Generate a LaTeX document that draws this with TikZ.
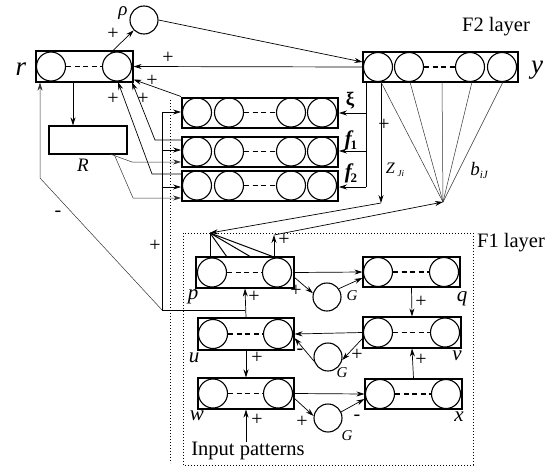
\documentclass[tikz,border=0pt]{standalone}
\usepackage{fontspec}
\setmainfont{Liberation Serif}
\usetikzlibrary{arrows.meta}
\begin{document}
\begin{tikzpicture}[x=1pt,y=-1pt,
  box/.style={draw, line width=1.1pt, rectangle, inner sep=0pt},
  tbox/.style={draw, line width=2pt, rectangle, inner sep=0pt, minimum width=156pt, minimum height=30pt},
  cir/.style={draw, circle, line width=1.1pt, minimum size=29pt, inner sep=0pt},
  dsh/.style={line width=1.1pt, dash pattern=on 5pt off 3.5pt},
  ln/.style={line width=0.7pt},
  con/.style={line width=0.7pt, -{Stealth[length=8pt,width=5pt]}},
  thn/.style={line width=0.5pt, black!80},
  pl/.style={font=\fontsize{20}{20}\selectfont, inner sep=0pt},
  it/.style={font=\fontsize{21}{21}\selectfont\itshape, inner sep=0pt},
  tx/.style={font=\fontsize{20.5}{20.5}\selectfont, inner sep=0pt},
  gl/.style={font=\fontsize{15}{15}\selectfont\itshape, inner sep=0pt}
]
\useasboundingbox (0,0) rectangle (552,469);

% ---------- F2 side ----------
\node[box, minimum width=97pt, minimum height=31pt] (rbox) at (84.5,66.5) {};
\node[cir] (r1) at (51,66.5) {};
\node[cir] (r2) at (117,66.5) {};
\draw[dsh] (r1.east) -- (r2.west);
\node[cir, minimum size=28pt] (rho) at (144,20) {};

\node[box, minimum width=155pt, minimum height=30pt] (ybox) at (440.5,67) {};
\node[cir] (y1) at (378,67) {};
\node[cir] (y2) at (409,67) {};
\node[cir] (y3) at (470,67) {};
\node[cir] (y4) at (502,67) {};
\draw[dsh] (y2.east) -- (y3.west);

\node[tbox] (xibox) at (260,112.5) {};
\node[tbox] (f1box) at (260,151.5) {};
\node[tbox] (f2box) at (260,185.5) {};
\foreach \b/\yy in {xi/112.5, fa/151.5, fb/185.5}{
  \node[cir] (\b1) at (197,\yy) {};
  \node[cir] (\b2) at (229,\yy) {};
  \node[cir] (\b3) at (291,\yy) {};
  \node[cir] (\b4) at (322,\yy) {};
  \draw[dsh] (\b2.east) -- (\b3.west);
}

\node[box, minimum width=78pt, minimum height=28pt] (Rbox) at (88,140) {};

% labels F2
\node[font=\fontsize{19}{19}\selectfont\itshape, inner sep=0pt] (lrho) at (123,13) {ρ};
\node[font=\fontsize{27}{27}\selectfont\itshape, inner sep=0pt] (lr) at (21,69) {r};
\node[font=\fontsize{27}{27}\selectfont\itshape, inner sep=0pt] (ly) at (537,70) {y};
\node[tx] (lF2) at (496,27) {F2 layer};
\node[font=\fontsize{19}{19}\selectfont\bfseries, inner sep=0pt] (lxi) at (350,101) {ξ};
\node[inner sep=0pt] (lf1) at (351,140) {\fontsize{21}{21}\selectfont\bfseries\itshape f\kern-1pt\raisebox{-4pt}{\fontsize{13}{13}\selectfont\upshape 1}};
\node[inner sep=0pt] (lf2) at (351,173) {\fontsize{21}{21}\selectfont\bfseries\itshape f\kern-1pt\raisebox{-4pt}{\fontsize{13}{13}\selectfont\upshape 2}};
\node[inner sep=0pt] (lz) at (395,170) {\fontsize{16}{16}\selectfont\itshape Z\,\raisebox{-3pt}{\fontsize{9}{9}\selectfont Ji}};
\node[inner sep=0pt] (lb) at (479,170) {\fontsize{19}{19}\selectfont\itshape b\raisebox{-3pt}{\fontsize{11}{11}\selectfont iJ}};
\node[font=\fontsize{19}{19}\selectfont\itshape, inner sep=0pt] (lR) at (83,165) {R};

% connectors F2
\draw[con] (r2.115) -- (rho.225);
\node[pl] (p1) at (113,34) {+};
\draw[ln, -{Stealth[length=8pt,width=5pt]}] (rho.east) -- ([yshift=5pt]ybox.west);
\draw[con] (ybox.west) -- (rbox.east);
\node[pl] (p2) at (168,58) {+};
\draw[con] (xibox.north west) -- ([yshift=3pt]rbox.south east);
\node[pl] (p3) at (152,81) {+};
\coordinate (f1a) at (182,140);
\coordinate (f1b) at (155,140);
\coordinate (f1c) at (132,82);
\draw[con] (f1a) -- (f1b) -- (f1c);
\coordinate (f2a) at (182,174);
\coordinate (f2b) at (152,174);
\coordinate (f2c) at (118,82);
\draw[con] (f2a) -- (f2b) -- (f2c);
\node[pl] (p4) at (113,99) {+};
\node[pl] (p5) at (143,99) {+};

\coordinate (ra) at (73,0);
\draw[con] (rbox.south -| ra) -- (Rbox.north -| ra);
\coordinate (Ra1) at (110,154);
\coordinate (Ra2) at (132,162);
\coordinate (Rb1) at (114,154);
\coordinate (Rb2) at (133,198);
\draw[thn, -{Stealth[length=8pt,width=5pt]}] (Ra1) -- (Ra2) -- (Ra2 -| f1box.west);
\draw[thn, -{Stealth[length=8pt,width=5pt]}] (Rb1) -- (Rb2) -- (Rb2 -| f2box.west);

% y -> xi f1 f2
\coordinate (yv) at (366,82);
\coordinate (yv1) at (366,113);
\coordinate (yv2) at (366,151);
\coordinate (yv3) at (366,187);
\draw[ln] (yv) -- (yv3);
\draw[con] (yv1) -- (yv1 -| xibox.east);
\draw[con] (yv2) -- (yv2 -| f1box.east);
\draw[con] (yv3) -- (yv3 -| f2box.east);

% Z top-down
\coordinate (zt) at (381,82);
\coordinate (zb) at (381,203);
\coordinate (pj) at (210,233);
\draw[con] (zt) -- (zb);
\node[pl] (p6) at (384,125) {+};
\draw[con] (zb) -- (pj);

% b bottom-up
\coordinate (bp) at (443,202);
\foreach \xx in {381,410,442,472,503}{
  \draw[thn] (\xx,82) -- (bp);
}

% ---------- dotted ----------
\draw[dotted, line width=1pt] (170,100) -- (170,463);
\draw[dotted, line width=1pt] (183,233) rectangle (473,465);
\node[tx] (lF1) at (511,243) {F1 layer};

% ---------- F1 boxes ----------
\node[box, minimum width=98pt, minimum height=31pt] (pbox) at (245,272.5) {};
\node[cir] (pc1) at (212,272.5) {};
\node[cir] (pc2) at (277,272.5) {};
\draw[dsh] (pc1.east) -- (pc2.west);
\node[box, minimum width=97pt, minimum height=30pt] (qbox) at (411.5,272) {};
\node[cir] (qc1) at (378,272) {};
\node[cir] (qc2) at (444,272) {};
\draw[dsh] (qc1.east) -- (qc2.west);
\node[box, minimum width=96pt, minimum height=32pt] (ubox) at (246,334) {};
\node[cir] (uc1) at (213,334) {};
\node[cir] (uc2) at (278,334) {};
\draw[dsh] (uc1.east) -- (uc2.west);
\node[box, minimum width=98pt, minimum height=31pt] (vbox) at (412,332.5) {};
\node[cir] (vc1) at (378,332.5) {};
\node[cir] (vc2) at (445,332.5) {};
\draw[dsh] (vc1.east) -- (vc2.west);
\node[box, minimum width=96pt, minimum height=31pt] (wbox) at (246,393.5) {};
\node[cir] (wc1) at (213,393.5) {};
\node[cir] (wc2) at (278,393.5) {};
\draw[dsh] (wc1.east) -- (wc2.west);
\node[box, minimum width=97pt, minimum height=30pt] (xbox) at (413.5,394) {};
\node[cir] (xc1) at (380,394) {};
\node[cir] (xc2) at (446,394) {};
\draw[dsh] (xc1.east) -- (xc2.west);

\node[cir, minimum size=28pt] (G1) at (327,297) {};
\node[cir, minimum size=28pt] (G2) at (328,357) {};
\node[cir, minimum size=28pt] (G3) at (328,418) {};

\node[it] (lp) at (193,297) {p};
\node[it] (lq) at (462,299) {q};
\node[it] (lu) at (194,358) {u};
\node[it] (lv) at (457,356) {v};
\node[it] (lw) at (197,416) {w};
\node[it] (lx) at (459,417) {x};
\node[gl] (lg1) at (352,296) {G};
\node[gl] (lg2) at (342,373) {G};
\node[gl] (lg3) at (347,436) {G};
\node[tx] (lin) at (248,451) {Input patterns};

% p top lines
\coordinate (pt1) at (227,257);
\coordinate (pt2) at (251,257);
\coordinate (pt3) at (274,257);
\coordinate (pu) at (274,235);
\draw[line width=1pt] (pbox.north -| pj) -- (pj);
\draw[line width=1pt] (pt1) -- (pj);
\draw[line width=1pt] (pt2) -- (pj);
\draw[line width=1pt] (pt3) -- (pj);
\draw[con] (pt3) -- (pu);
\node[pl] (p7) at (284,240) {+};
\draw[con] (pu) -- (bp);

% F1 connectors
\draw[con] (pbox.east) -- (qbox.west);
\draw[con] ([yshift=-5pt]pbox.east) -- (G1.165);
\node[pl] (p8) at (296,291) {+};
\draw[con] (G1.35) -- ([yshift=-6pt]qbox.west);
\draw[con] (qbox.south) -- (vbox.north);
\node[pl] (p9) at (421,302) {+};
\draw[con] (vbox.west) -- (ubox.east);
\draw[con] ([yshift=-6pt]vbox.west) -- (G2.-12);
\node[pl] (p10) at (357,355) {+};
\draw[con] (G2.197) -- ([yshift=-4pt]ubox.east);
\node[pl] (m1) at (300,352) {-};
\draw[con] (ubox.south) -- (wbox.north);
\node[pl] (p11) at (257,358) {+};
\draw[con] (xbox.north) -- (vbox.south);
\node[pl] (p12) at (421,360) {+};
\draw[con] (wbox.east) -- (xbox.west);
\draw[con] ([yshift=-5pt]wbox.east) -- (G3.172);
\node[pl] (p13) at (302,422) {+};
\draw[con] (G3.25) -- ([yshift=-5pt]xbox.west);
\node[pl] (m2) at (357,418) {-};
\draw[con] (lin.north -| wbox.south) -- (wbox.south);
\node[pl] (p14) at (257,420) {+};

% u -> p and feedback to F2 side
\coordinate (ju) at (245,310);
\coordinate (jl) at (162,310);
\coordinate (jd) at (40,178);
\coordinate (jt) at (162,112);
\coordinate (jm) at (162,150);
\coordinate (jb) at (162,187);
\draw[con] (ubox.north) -- (pbox.south);
\node[pl] (p15) at (254,297) {+};
\draw[ln] (ju) -- (jl) -- (jt);
\draw[con] (jt) -- (jt -| xibox.west);
\draw[con] (jm) -- (jm -| f1box.west);
\draw[con] (jb) -- (jb -| f2box.west);
\node[pl] (p16) at (155,246) {+};
\draw[thn, -{Stealth[length=8pt,width=5pt]}] (jl) -- (jd) -- (rbox.south -| jd);
\node[pl] (m3) at (58,214) {-};
\end{tikzpicture}
\end{document}
